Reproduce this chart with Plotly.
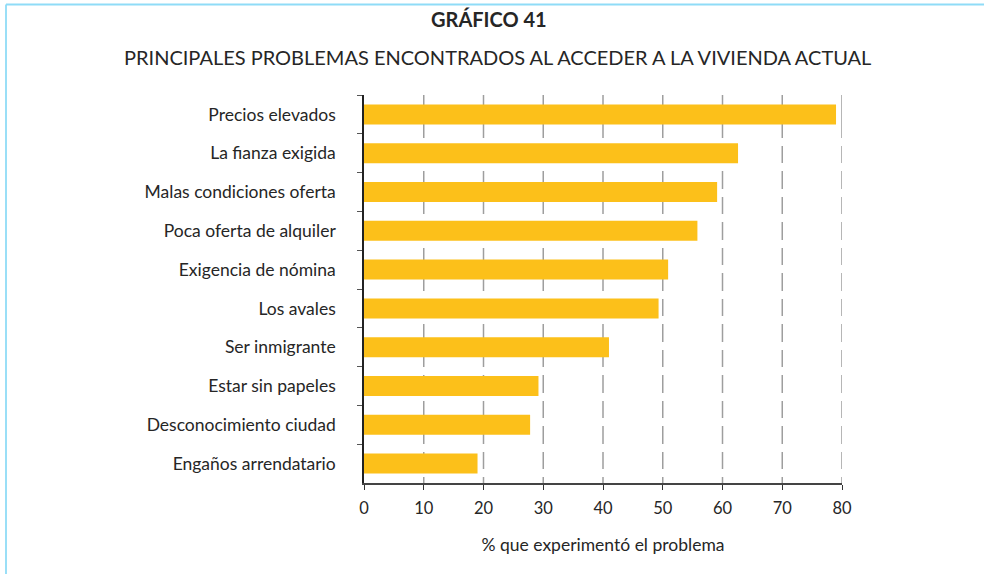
import plotly.graph_objects as go

# Problems reported when accessing current housing (top to bottom)
problemas = [
    "Precios elevados",
    "La fianza exigida",
    "Malas condiciones oferta",
    "Poca oferta de alquiler",
    "Exigencia de nómina",
    "Los avales",
    "Ser inmigrante",
    "Estar sin papeles",
    "Desconocimiento ciudad",
    "Engaños arrendatario",
]
porcentajes = [79.0, 62.6, 59.1, 55.8, 50.9, 49.3, 41.0, 29.2, 27.8, 19.0]
x_ticks = [0, 10, 20, 30, 40, 50, 60, 70, 80]

titulo = "GRÁFICO 41"
subtitulo = "PRINCIPALES PROBLEMAS ENCONTRADOS AL ACCEDER A LA VIVIENDA ACTUAL"
eje_x = "% que experimentó el problema"

FONT = "Lato, 'Open Sans', sans-serif"
TXT = "#262626"
BAR = "#FCC01A"
FRAME = "#8FDCF7"
GRID = "#9e9e9e"

fig = go.Figure(
    go.Bar(
        x=porcentajes,
        y=problemas,
        orientation="h",
        marker=dict(color=BAR, line=dict(width=0)),
        hoverinfo="x+y",
    )
)

W, H = 984, 574
L, R, T, B = 364, 142, 95, 91
pw, ph = W - L - R, H - T - B


def px_x(p):
    return (p - L) / pw


def px_y(p):
    return 1 - (p - T) / ph


# gridline dash pattern: one long leading dash, then short regular dashes
GRID_DASH = "43px,8px," + ",".join(["17px,8px,18px,8px"] * 8)

# dashed vertical gridlines at every x tick (except the axis at 0)
grid_shapes = [
    dict(type="line", xref="x", yref="paper", x0=v, x1=v, y0=1, y1=0,
         layer="below", line=dict(color=GRID, width=1.5, dash=GRID_DASH))
    for v in x_ticks if v > 0
]

frame_shapes = [
    # light blue frame: top and left edges
    dict(type="line", xref="paper", yref="paper",
         x0=px_x(6), x1=px_x(W + 5), y0=px_y(4.5), y1=px_y(4.5),
         line=dict(color=FRAME, width=1.8)),
    dict(type="line", xref="paper", yref="paper",
         x0=px_x(6), x1=px_x(6), y0=px_y(4.5), y1=px_y(H + 5),
         line=dict(color=FRAME, width=1.8)),
]

fig.update_layout(
    width=W,
    height=H,
    margin=dict(l=L, r=R, t=T, b=B, pad=0),
    paper_bgcolor="white",
    plot_bgcolor="white",
    bargap=0.485,
    showlegend=False,
    font=dict(family=FONT, size=15, color=TXT),
    xaxis=dict(
        range=[0, 80],
        tickvals=x_ticks,
        ticktext=[str(v) for v in x_ticks],
        showgrid=False,
        zeroline=False,
        showline=True,
        linecolor="#444444",
        linewidth=2,
        ticks="outside",
        ticklen=5,
        tickwidth=1.3,
        tickcolor="#333333",
        tickfont=dict(size=16.5, color=TXT),
        ticklabelstandoff=4,
        title=dict(text=eje_x, font=dict(size=17.5, color=TXT), standoff=22),
        fixedrange=True,
    ),
    yaxis=dict(
        autorange="reversed",
        showgrid=False,
        zeroline=False,
        showline=True,
        linecolor="#222222",
        linewidth=1.5,
        ticks="outside",
        tickson="boundaries",
        ticklen=5,
        tickwidth=1.3,
        tickcolor="#555555",
        tickfont=dict(size=17.5, color=TXT),
        ticklabelstandoff=23,
        fixedrange=True,
    ),
    annotations=[
        dict(
            text="<b>" + titulo + "</b>",
            xref="paper", yref="paper",
            x=px_x(489), y=px_y(19),
            xanchor="center", yanchor="middle",
            showarrow=False,
            font=dict(size=20, color=TXT, family=FONT),
        ),
        dict(
            text=subtitulo,
            xref="paper", yref="paper",
            x=px_x(497), y=px_y(57),
            xanchor="center", yanchor="middle",
            showarrow=False,
            font=dict(size=20, color=TXT, family=FONT),
        ),
    ],
    shapes=grid_shapes + frame_shapes,
)

fig.write_html("out.html", config={"displayModeBar": False})
